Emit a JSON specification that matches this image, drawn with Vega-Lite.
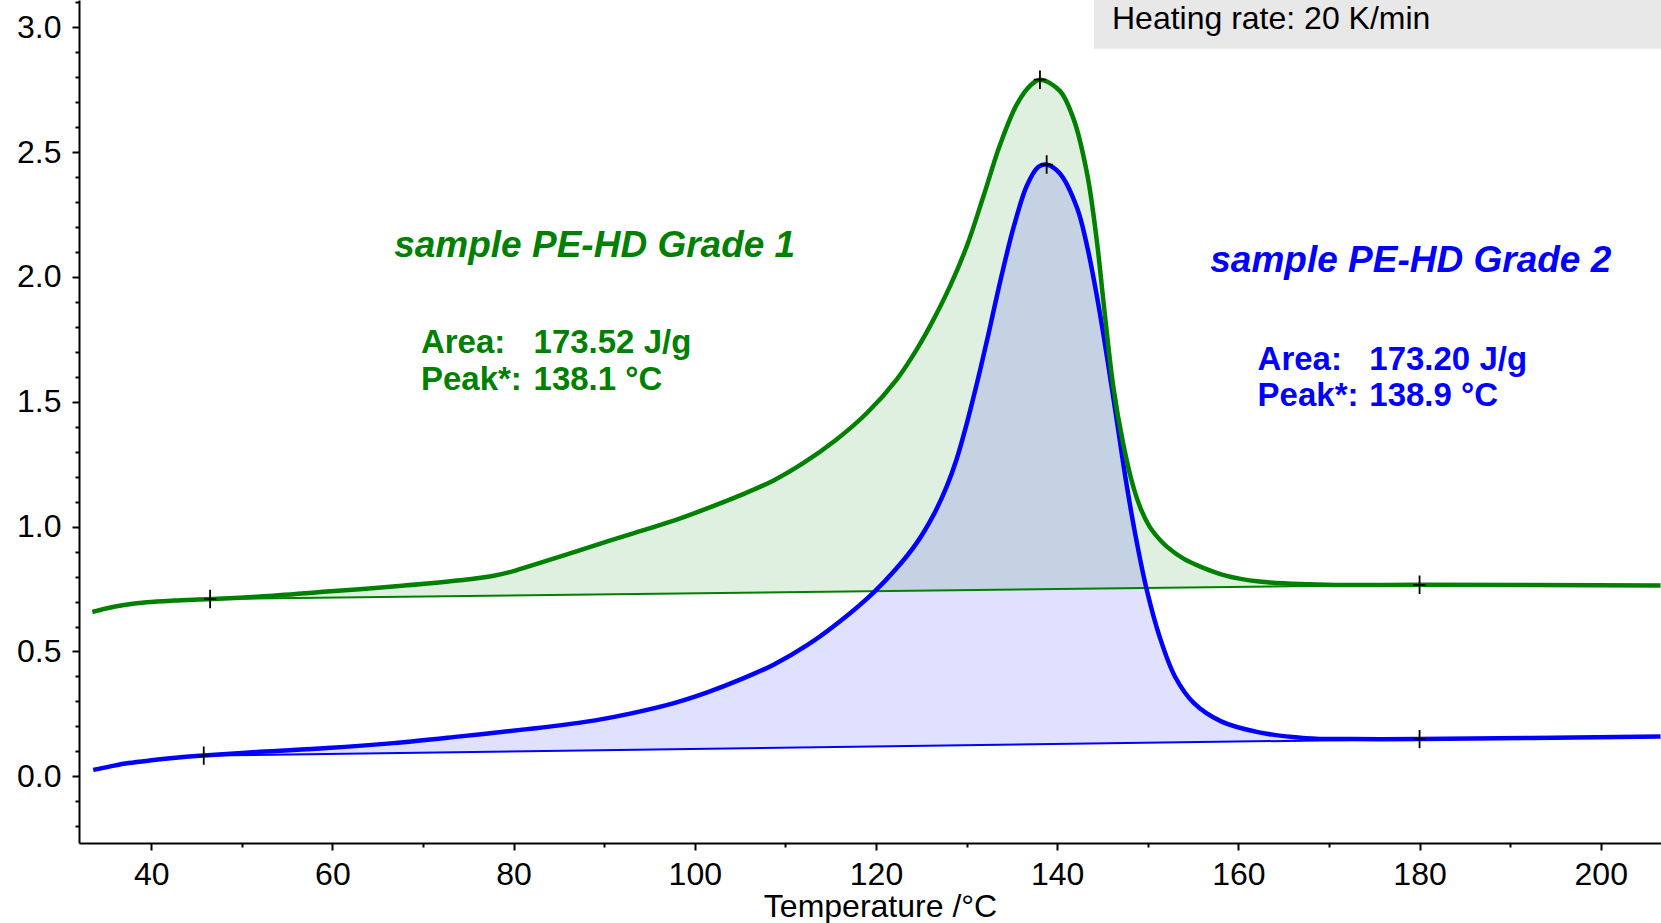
{
  "$schema": "https://vega.github.io/schema/vega-lite/v6.json",
  "width": 1582,
  "height": 843,
  "autosize": {"type": "none"},
  "padding": {"left": 79, "top": 0, "right": 0, "bottom": 80},
  "background": "white",
  "config": {"view": {"stroke": null}, "axis": {"grid": false}},
  "datasets": {
    "green": [
      {"T": 33.5, "v": 0.658}, {"T": 35.0, "v": 0.672}, {"T": 37.0, "v": 0.686}, {"T": 39.5, "v": 0.697}, {"T": 42.5, "v": 0.704},
      {"T": 46.5, "v": 0.710, "b": 0.710}, {"T": 52.0, "v": 0.720, "b": 0.712}, {"T": 59.4, "v": 0.740, "b": 0.716},
      {"T": 66.7, "v": 0.760, "b": 0.719}, {"T": 74.1, "v": 0.785, "b": 0.722}, {"T": 77.8, "v": 0.803, "b": 0.723},
      {"T": 80.0, "v": 0.822, "b": 0.724}, {"T": 82.2, "v": 0.847, "b": 0.725}, {"T": 85.9, "v": 0.889, "b": 0.727},
      {"T": 89.5, "v": 0.931, "b": 0.728}, {"T": 93.2, "v": 0.973, "b": 0.730}, {"T": 97.6, "v": 1.023, "b": 0.732},
      {"T": 101.3, "v": 1.072, "b": 0.733}, {"T": 105.0, "v": 1.125, "b": 0.735}, {"T": 108.7, "v": 1.185, "b": 0.737},
      {"T": 112.0, "v": 1.255, "b": 0.738}, {"T": 115.5, "v": 1.345, "b": 0.740}, {"T": 119.0, "v": 1.455, "b": 0.741},
      {"T": 122.3, "v": 1.590, "b": 0.743}, {"T": 124.5, "v": 1.710, "b": 0.743}, {"T": 126.36, "v": 1.830, "b": 0.744},
      {"T": 128.2, "v": 1.965, "b": 0.745}, {"T": 130.04, "v": 2.125, "b": 0.746}, {"T": 131.88, "v": 2.325, "b": 0.746},
      {"T": 133.7, "v": 2.530, "b": 0.747}, {"T": 135.53, "v": 2.690, "b": 0.748}, {"T": 137.0, "v": 2.765, "b": 0.749},
      {"T": 138.1, "v": 2.790, "b": 0.749}, {"T": 140.3, "v": 2.745, "b": 0.750}, {"T": 141.8, "v": 2.634, "b": 0.751},
      {"T": 143.3, "v": 2.414, "b": 0.751}, {"T": 144.4, "v": 2.138, "b": 0.752}, {"T": 145.1, "v": 1.904, "b": 0.752},
      {"T": 146.2, "v": 1.559, "b": 0.753}, {"T": 147.3, "v": 1.330, "b": 0.753}, {"T": 148.4, "v": 1.160, "b": 0.754},
      {"T": 149.3, "v": 1.065, "b": 0.754}, {"T": 150.2, "v": 1.000, "b": 0.754}, {"T": 151.2, "v": 0.953, "b": 0.755},
      {"T": 152.1, "v": 0.920, "b": 0.755}, {"T": 153.9, "v": 0.873, "b": 0.756}, {"T": 155.8, "v": 0.840, "b": 0.757},
      {"T": 158.5, "v": 0.805, "b": 0.758}, {"T": 162.3, "v": 0.780, "b": 0.759}, {"T": 167.8, "v": 0.769, "b": 0.762},
      {"T": 172.0, "v": 0.766, "b": 0.764}, {"T": 180.0, "v": 0.767}, {"T": 206.6, "v": 0.764}
    ],
    "blue": [
      {"T": 33.6, "v": 0.026}, {"T": 35.5, "v": 0.040}, {"T": 37.5, "v": 0.053}, {"T": 40.0, "v": 0.064}, {"T": 43.0, "v": 0.075},
      {"T": 45.8, "v": 0.083, "b": 0.083}, {"T": 52.0, "v": 0.098, "b": 0.086}, {"T": 59.4, "v": 0.113, "b": 0.090},
      {"T": 66.7, "v": 0.133, "b": 0.093}, {"T": 74.1, "v": 0.160, "b": 0.097}, {"T": 81.5, "v": 0.189, "b": 0.101},
      {"T": 85.1, "v": 0.204, "b": 0.102}, {"T": 89.0, "v": 0.224, "b": 0.104}, {"T": 93.0, "v": 0.252, "b": 0.106},
      {"T": 97.6, "v": 0.292, "b": 0.108}, {"T": 101.3, "v": 0.335, "b": 0.110}, {"T": 105.0, "v": 0.387, "b": 0.112},
      {"T": 108.7, "v": 0.447, "b": 0.114}, {"T": 112.4, "v": 0.525, "b": 0.116}, {"T": 116.0, "v": 0.620, "b": 0.118},
      {"T": 119.7, "v": 0.735, "b": 0.119}, {"T": 122.2, "v": 0.830, "b": 0.121}, {"T": 124.5, "v": 0.935, "b": 0.122},
      {"T": 126.4, "v": 1.050, "b": 0.123}, {"T": 127.8, "v": 1.160, "b": 0.123}, {"T": 128.9, "v": 1.270, "b": 0.124},
      {"T": 130.0, "v": 1.410, "b": 0.124}, {"T": 131.15, "v": 1.575, "b": 0.125}, {"T": 132.25, "v": 1.745, "b": 0.126},
      {"T": 133.7, "v": 1.980, "b": 0.126}, {"T": 135.2, "v": 2.200, "b": 0.127}, {"T": 136.65, "v": 2.365, "b": 0.128},
      {"T": 137.9, "v": 2.440, "b": 0.128}, {"T": 138.8, "v": 2.450, "b": 0.129}, {"T": 140.3, "v": 2.414, "b": 0.129},
      {"T": 142.2, "v": 2.276, "b": 0.130}, {"T": 143.3, "v": 2.124, "b": 0.131}, {"T": 144.4, "v": 1.920, "b": 0.132},
      {"T": 145.5, "v": 1.680, "b": 0.132}, {"T": 146.6, "v": 1.420, "b": 0.133}, {"T": 147.7, "v": 1.160, "b": 0.133},
      {"T": 148.8, "v": 0.935, "b": 0.134}, {"T": 149.9, "v": 0.745, "b": 0.134}, {"T": 151.3, "v": 0.560, "b": 0.135},
      {"T": 153.0, "v": 0.400, "b": 0.136}, {"T": 155.1, "v": 0.293, "b": 0.137}, {"T": 158.1, "v": 0.220, "b": 0.138},
      {"T": 162.3, "v": 0.176, "b": 0.140}, {"T": 167.4, "v": 0.153, "b": 0.143}, {"T": 172.5, "v": 0.149, "b": 0.145},
      {"T": 180.0, "v": 0.149}, {"T": 206.6, "v": 0.160}
    ],
    "gbase": [{"T": 46.5, "v": 0.710}, {"T": 180.0, "v": 0.767}],
    "bbase": [{"T": 45.8, "v": 0.083}, {"T": 180.0, "v": 0.149}],
    "marks": [
      {"T": 46.5, "v": 0.710}, {"T": 180.0, "v": 0.767}, {"T": 138.1, "v": 2.790},
      {"T": 45.8, "v": 0.083}, {"T": 180.0, "v": 0.149}, {"T": 138.84, "v": 2.450}
    ],
    "box": [{"T": 144.06, "T2": 210, "v": 2.914, "v2": 3.2}],
    "texts": [
      {"T": 66.82, "v": 2.081, "txt": "sample PE-HD Grade 1", "grp": "g", "kind": "title"},
      {"T": 156.9, "v": 2.020, "txt": "sample PE-HD Grade 2", "grp": "b", "kind": "title"},
      {"T": 69.77, "v": 1.697, "txt": "Area:", "grp": "g", "kind": "info"},
      {"T": 82.2, "v": 1.697, "txt": "173.52 J/g", "grp": "g", "kind": "info"},
      {"T": 69.77, "v": 1.548, "txt": "Peak*:", "grp": "g", "kind": "info"},
      {"T": 82.2, "v": 1.548, "txt": "138.1 °C", "grp": "g", "kind": "info"},
      {"T": 162.12, "v": 1.628, "txt": "Area:", "grp": "b", "kind": "info"},
      {"T": 174.45, "v": 1.628, "txt": "173.20 J/g", "grp": "b", "kind": "info"},
      {"T": 162.12, "v": 1.484, "txt": "Peak*:", "grp": "b", "kind": "info"},
      {"T": 174.45, "v": 1.484, "txt": "138.9 °C", "grp": "b", "kind": "info"},
      {"T": 146.05, "v": 2.992, "txt": "Heating rate: 20 K/min", "grp": "k", "kind": "heat"}
    ]
  },
  "resolve": {"axis": {"x": "independent", "y": "independent"}},
  "layer": [
    {
      "data": {"name": "box"},
      "mark": {"type": "rect", "color": "#e8e8e8", "clip": true},
      "encoding": {
        "x": {"field": "T", "type": "quantitative", "scale": {"domain": [32.03, 206.65], "nice": false, "zero": false}, "axis": null},
        "x2": {"field": "T2"},
        "y": {"field": "v", "type": "quantitative", "scale": {"domain": [-0.267, 3.109], "nice": false, "zero": false}, "axis": null},
        "y2": {"field": "v2"}
      }
    },
    {
      "data": {"name": "green"},
      "transform": [{"filter": "isValid(datum.b)"}],
      "mark": {"type": "area", "interpolate": "catmull-rom", "color": "#008000", "fillOpacity": 0.12, "clip": true},
      "encoding": {
        "x": {"field": "T", "type": "quantitative", "axis": null},
        "y": {"field": "v", "type": "quantitative", "axis": null},
        "y2": {"field": "b"}
      }
    },
    {
      "data": {"name": "blue"},
      "transform": [{"filter": "isValid(datum.b)"}],
      "mark": {"type": "area", "interpolate": "catmull-rom", "color": "#0000ff", "fillOpacity": 0.12, "clip": true},
      "encoding": {
        "x": {"field": "T", "type": "quantitative", "axis": null},
        "y": {"field": "v", "type": "quantitative", "axis": null},
        "y2": {"field": "b"}
      }
    },
    {
      "data": {"name": "gbase"},
      "mark": {"type": "line", "color": "#008000", "strokeWidth": 2, "clip": true},
      "encoding": {
        "x": {"field": "T", "type": "quantitative", "axis": null},
        "y": {"field": "v", "type": "quantitative", "axis": null}
      }
    },
    {
      "data": {"name": "bbase"},
      "mark": {"type": "line", "color": "#0000ff", "strokeWidth": 2, "clip": true},
      "encoding": {
        "x": {"field": "T", "type": "quantitative", "axis": null},
        "y": {"field": "v", "type": "quantitative", "axis": null}
      }
    },
    {
      "data": {"name": "blue"},
      "mark": {"type": "line", "interpolate": "catmull-rom", "color": "#0000ff", "strokeWidth": 4.5, "clip": true},
      "encoding": {
        "x": {"field": "T", "type": "quantitative", "axis": {"orient": "bottom", "values": [50, 70, 90, 110, 130, 150, 170, 190], "labels": false, "domain": false, "ticks": true, "tickSize": 4, "tickWidth": 2, "tickColor": "black", "title": null}},
        "y": {"field": "v", "type": "quantitative", "axis": {"orient": "left", "values": [-0.2, -0.1, 0.1, 0.2, 0.3, 0.4, 0.6, 0.7, 0.8, 0.9, 1.1, 1.2, 1.3, 1.4, 1.6, 1.7, 1.8, 1.9, 2.1, 2.2, 2.3, 2.4, 2.6, 2.7, 2.8, 2.9, 3.1], "labels": false, "domain": false, "ticks": true, "tickSize": 4, "tickWidth": 2, "tickColor": "black", "title": null}}
      }
    },
    {
      "data": {"name": "green"},
      "mark": {"type": "line", "interpolate": "catmull-rom", "color": "#008000", "strokeWidth": 4.5, "clip": true},
      "encoding": {
        "x": {"field": "T", "type": "quantitative", "axis": {"orient": "bottom", "values": [40, 60, 80, 100, 120, 140, 160, 180, 200], "format": "d", "domain": true, "domainColor": "black", "domainWidth": 2, "tickSize": 7, "tickWidth": 2, "tickColor": "black", "labelFont": "Liberation Sans", "labelFontSize": 32, "labelColor": "black", "labelPadding": 9, "labelFlush": false, "labelOverlap": false, "title": "Temperature /°C", "titleFont": "Liberation Sans", "titleFontSize": 32, "titleFontWeight": "normal", "titleColor": "black", "titleX": 801, "titleY": 73, "titleAlign": "center", "titleBaseline": "alphabetic"}},
        "y": {"field": "v", "type": "quantitative", "axis": {"orient": "left", "values": [0, 0.5, 1, 1.5, 2, 2.5, 3], "format": ".1f", "domain": true, "domainColor": "black", "domainWidth": 2, "tickSize": 7, "tickWidth": 2, "tickColor": "black", "labelFont": "Liberation Sans", "labelFontSize": 32, "labelColor": "black", "labelPadding": 11, "labelFlush": false, "labelOverlap": false, "title": null}}
      }
    },
    {
      "data": {"name": "marks"},
      "mark": {"type": "point", "shape": "M-0.67,0L0.67,0M0,-1L0,1", "size": 340, "filled": false, "color": "black", "strokeWidth": 1.8, "opacity": 1},
      "encoding": {
        "x": {"field": "T", "type": "quantitative", "axis": null},
        "y": {"field": "v", "type": "quantitative", "axis": null}
      }
    },
    {
      "data": {"name": "texts"},
      "transform": [{"filter": "datum.kind === 'title'"}],
      "mark": {"type": "text", "align": "left", "baseline": "alphabetic", "font": "Liberation Sans", "fontSize": 37, "fontWeight": "bold", "fontStyle": "italic"},
      "encoding": {
        "x": {"field": "T", "type": "quantitative", "axis": null},
        "y": {"field": "v", "type": "quantitative", "axis": null},
        "text": {"field": "txt"},
        "color": {"field": "grp", "type": "nominal", "scale": {"domain": ["g", "b", "k"], "range": ["#008000", "#0000ff", "#000000"]}, "legend": null}
      }
    },
    {
      "data": {"name": "texts"},
      "transform": [{"filter": "datum.kind === 'info'"}],
      "mark": {"type": "text", "align": "left", "baseline": "alphabetic", "font": "Liberation Sans", "fontSize": 33, "fontWeight": "bold"},
      "encoding": {
        "x": {"field": "T", "type": "quantitative", "axis": null},
        "y": {"field": "v", "type": "quantitative", "axis": null},
        "text": {"field": "txt"},
        "color": {"field": "grp", "type": "nominal", "scale": {"domain": ["g", "b", "k"], "range": ["#008000", "#0000ff", "#000000"]}, "legend": null}
      }
    },
    {
      "data": {"name": "texts"},
      "transform": [{"filter": "datum.kind === 'heat'"}],
      "mark": {"type": "text", "align": "left", "baseline": "alphabetic", "font": "Liberation Sans", "fontSize": 32, "color": "black"},
      "encoding": {
        "x": {"field": "T", "type": "quantitative", "axis": null},
        "y": {"field": "v", "type": "quantitative", "axis": null},
        "text": {"field": "txt"}
      }
    }
  ]
}
